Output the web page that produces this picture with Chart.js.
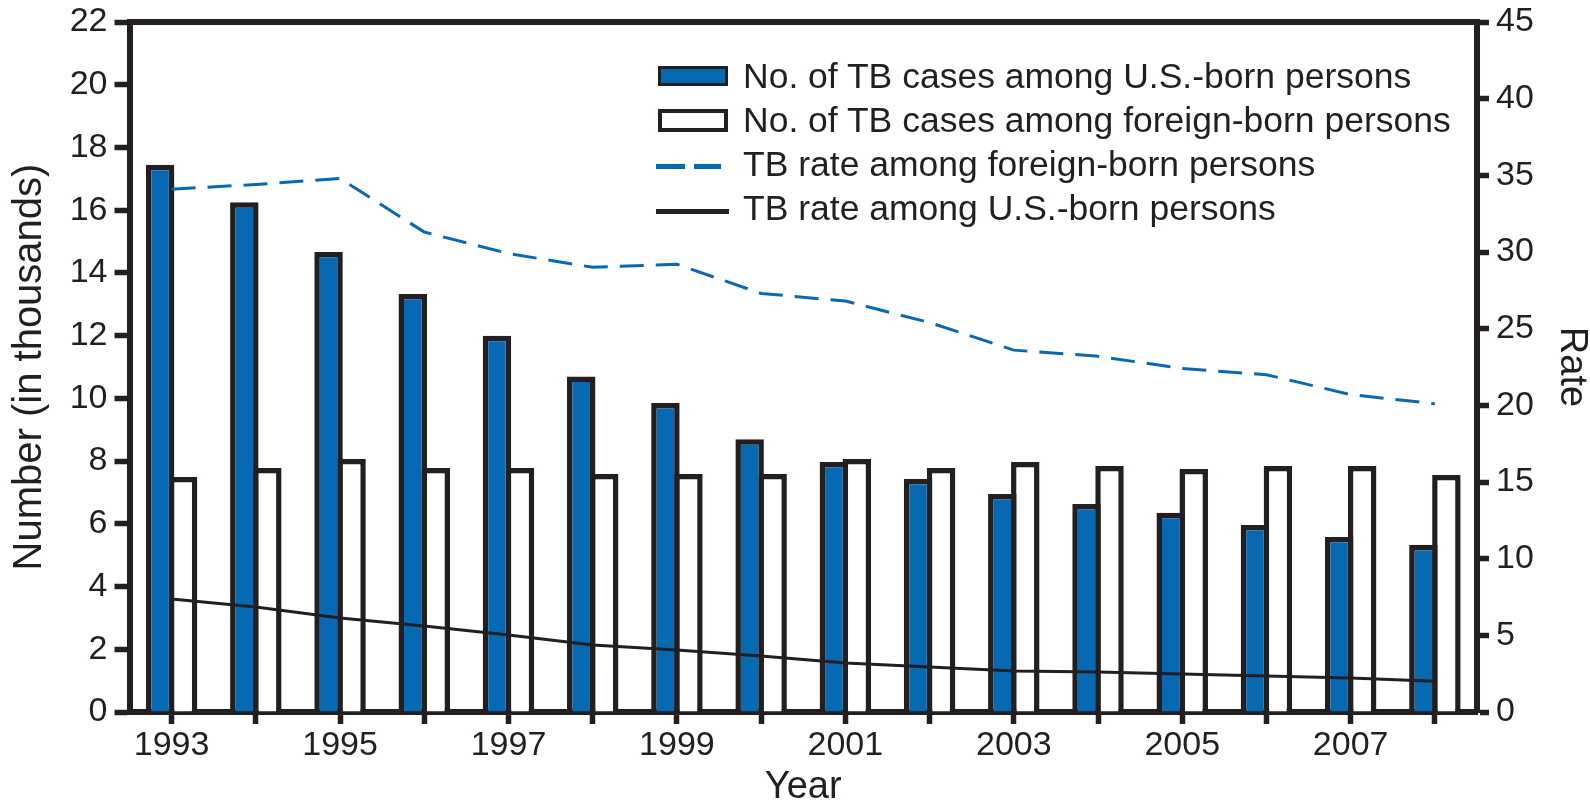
<!DOCTYPE html>
<html>
<head>
<meta charset="utf-8">
<script src="https://cdn.jsdelivr.net/npm/chart.js@4.4.0/dist/chart.umd.min.js"></script>
<style>
    body { margin: 0; background: #ffffff; }
    .chart-wrap { position: relative; width: 1590px; height: 803px; }
    .tb-legend { position: absolute; left: 656px; top: 54px; font-family: "Liberation Sans", Arial, sans-serif; color: #231f20; }
    .tb-legend-item { display: flex; align-items: center; height: 44px; }
    .tb-swatch { width: 74px; height: 44px; position: relative; flex: none; }
    .tb-label { margin-left: 13px; font-size: 35.5px; line-height: 44px; white-space: nowrap; }
</style>
</head>
<body>
<div class="chart-wrap">
    <canvas id="tbCanvas"></canvas>
    <div class="tb-legend" id="tbLegend"></div>
</div>
<script>
// values (cases in thousands, rates per 100,000)
const years = ['1993', '1994', '1995', '1996', '1997', '1998', '1999', '2000',
               '2001', '2002', '2003', '2004', '2005', '2006', '2007', '2008'];
const usBornCases = [17.45, 16.25, 14.67, 13.33, 12.0, 10.7, 9.85, 8.7, 7.97, 7.43, 6.95, 6.63, 6.35, 5.96, 5.58, 5.33];
const foreignBornCases = [7.49, 7.78, 8.07, 7.78, 7.78, 7.59, 7.59, 7.59, 8.07, 7.78, 7.97, 7.84, 7.75, 7.84, 7.84, 7.56];
const foreignBornRate = [34.1, 34.4, 34.8, 31.3, 29.9, 29.0, 29.2, 27.3, 26.8, 25.4, 23.6, 23.2, 22.4, 22.0, 20.7, 20.1];
const usBornRate = [7.37, 6.85, 6.13, 5.61, 5.02, 4.37, 4.04, 3.65, 3.2, 2.94, 2.67, 2.61, 2.48, 2.35, 2.22, 2.0];
const leftTicks = [0, 2, 4, 6, 8, 10, 12, 14, 16, 18, 20, 22];
const rightTicks = [0, 5, 10, 15, 20, 25, 30, 35, 40, 45];

const INK = '#231f20';
const BLUE = '#0669b2';
const FONT = '"Liberation Sans", Arial, sans-serif';
const AXIS_W = 6;

// top frame line of the plot
const topFrame = {
    id: 'topFrame',
    afterDraw(chart) {
        const { ctx, chartArea } = chart;
        ctx.save();
        ctx.strokeStyle = INK;
        ctx.lineWidth = AXIS_W;
        ctx.beginPath();
        ctx.moveTo(chartArea.left, chartArea.top);
        ctx.lineTo(chartArea.right, chartArea.top);
        ctx.stroke();
        ctx.restore();
    }
};

function axisGrid(len) {
    return {
        drawOnChartArea: false,
        drawTicks: true,
        tickLength: len,
        tickWidth: 5.5,
        tickColor: INK,
        offset: false
    };
}

const chart = new Chart(document.getElementById('tbCanvas'), {
    type: 'bar',
    data: {
        labels: years,
        datasets: [
            {
                label: 'No. of TB cases among U.S.-born persons',
                data: usBornCases,
                backgroundColor: BLUE,
                borderColor: INK,
                borderWidth: 5.5,
                borderSkipped: 'bottom',
                yAxisID: 'y',
                order: 1,
                // bars overlap by one border width so the shared edge stays single
                categoryPercentage: 0.546,
                barPercentage: 1.239,
                swatch: 'box'
            },
            {
                label: 'No. of TB cases among foreign-born persons',
                data: foreignBornCases,
                backgroundColor: '#ffffff',
                borderColor: INK,
                borderWidth: 5.5,
                borderSkipped: 'bottom',
                yAxisID: 'y',
                order: 1,
                categoryPercentage: 0.546,
                barPercentage: 1.239,
                swatch: 'box'
            },
            {
                type: 'line',
                label: 'TB rate among foreign-born persons',
                data: foreignBornRate,
                borderColor: BLUE,
                borderWidth: 3,
                borderDash: [24, 12],
                pointRadius: 0,
                tension: 0,
                fill: false,
                yAxisID: 'y1',
                order: 0,
                swatch: 'dash'
            },
            {
                type: 'line',
                label: 'TB rate among U.S.-born persons',
                data: usBornRate,
                borderColor: INK,
                borderWidth: 3,
                pointRadius: 0,
                tension: 0,
                fill: false,
                yAxisID: 'y1',
                order: 0,
                swatch: 'line'
            }
        ]
    },
    options: {
        responsive: true,
        maintainAspectRatio: false,
        animation: false,
        devicePixelRatio: 1,
        layout: { padding: { top: 22, left: 0, right: 0, bottom: 0 } },
        plugins: {
            legend: { display: false },
            tooltip: { enabled: false }
        },
        scales: {
            x: {
                offset: true,
                grid: axisGrid(12),
                border: { display: true, color: INK, width: AXIS_W },
                ticks: {
                    color: INK,
                    font: { family: FONT, size: 34 },
                    padding: 1,
                    autoSkip: false,
                    maxRotation: 0,
                    callback: function(value, index) {
                        // only every other year is labelled
                        return index % 2 === 0 ? years[index] : '';
                    }
                },
                title: {
                    display: true,
                    text: 'Year',
                    color: INK,
                    font: { family: FONT, size: 38, lineHeight: 0.8 },
                    padding: 0
                },
                afterFit: function(scale) { scale.height = 91; }
            },
            y: {
                position: 'left',
                min: 0,
                max: 22,
                afterBuildTicks: function(scale) {
                    scale.ticks = leftTicks.map(v => ({ value: v }));
                },
                grid: axisGrid(15),
                border: { display: true, color: INK, width: AXIS_W },
                ticks: {
                    color: INK,
                    // small lineHeight keeps the label overflow from pushing the plot top down
                    font: { family: FONT, size: 34, lineHeight: 0.8 },
                    padding: 7,
                    autoSkip: false
                },
                title: {
                    display: true,
                    text: 'Number (in thousands)',
                    color: INK,
                    font: { family: FONT, size: 40, lineHeight: 1 },
                    padding: { top: 10, bottom: 0 }
                },
                afterFit: function(scale) { scale.width = 129.5; }
            },
            y1: {
                position: 'right',
                min: 0,
                max: 45,
                afterBuildTicks: function(scale) {
                    scale.ticks = rightTicks.map(v => ({ value: v }));
                },
                grid: axisGrid(12),
                border: { display: true, color: INK, width: AXIS_W },
                ticks: {
                    color: INK,
                    font: { family: FONT, size: 34, lineHeight: 0.8 },
                    padding: 7,
                    autoSkip: false
                },
                title: {
                    display: true,
                    text: 'Rate',
                    color: INK,
                    font: { family: FONT, size: 38, lineHeight: 1 },
                    padding: 0
                },
                afterFit: function(scale) { scale.width = 113; }
            }
        }
    },
    plugins: [topFrame]
});

// legend drawn as html on top of the plot, one row per dataset
function swatchHtml(ds) {
    if (ds.swatch === 'box') {
        const thick = ds.backgroundColor === BLUE ? 3 : 4;
        const h = ds.backgroundColor === BLUE ? 20 : 23;
        return `<div style="position:absolute; left:2px; top:${22 - h / 2}px; width:70px; height:${h}px; box-sizing:border-box; border:${thick}px solid ${INK}; background:${ds.backgroundColor};"></div>`;
    }
    if (ds.swatch === 'dash') {
        return `<div style="position:absolute; left:0; top:22px; width:29px; height:5px; background:${ds.borderColor};"></div>
                <div style="position:absolute; left:38px; top:22px; width:27px; height:5px; background:${ds.borderColor};"></div>`;
    }
    return `<div style="position:absolute; left:0; top:23px; width:73px; height:5px; background:${ds.borderColor};"></div>`;
}

document.getElementById('tbLegend').innerHTML = chart.data.datasets.map(ds => `
    <div class="tb-legend-item">
        <div class="tb-swatch">${swatchHtml(ds)}</div>
        <span class="tb-label">${ds.label}</span>
    </div>
`).join('');
</script>
</body>
</html>
